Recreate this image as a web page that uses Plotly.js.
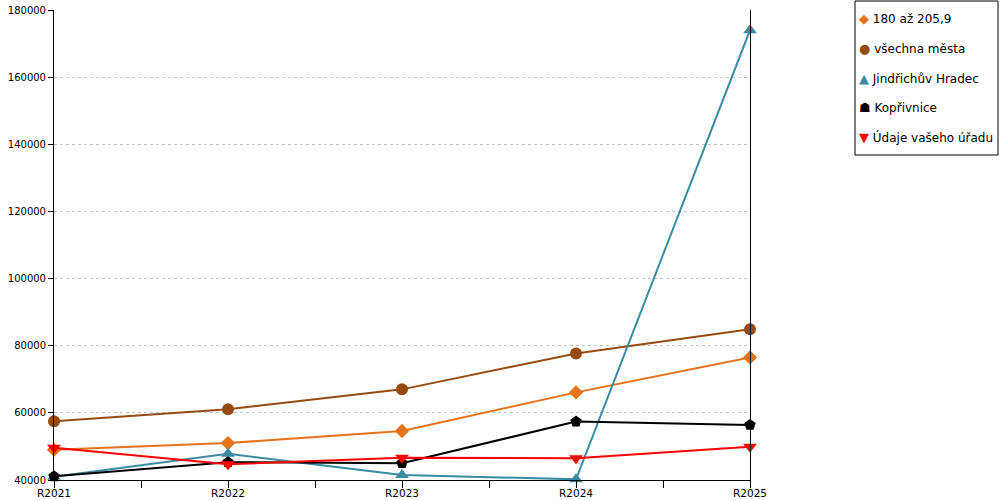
<!DOCTYPE html>
<html>
<head>
<meta charset="utf-8">
<script src="https://cdn.plot.ly/plotly-3.0.1.min.js"></script>
<style>html,body{margin:0;padding:0;background:#fff;}#chart{width:1000px;height:500px;}</style>
</head>
<body>
<div id="chart"></div>
<script>
const categories = ['R2021', 'R2022', 'R2023', 'R2024', 'R2025'];
const seriesNames = ['180 až 205,9', 'všechna města', 'Jindřichův Hradec', 'Kopřivnice', 'Údaje vašeho úřadu'];
const range180 = [49000, 51000, 54600, 66100, 76500];
const allCities = [57500, 61100, 67000, 77700, 84900];
const jindrichuvHradec = [41000, 47800, 41500, 40200, 174000];
const koprivnice = [41100, 45300, 45000, 57400, 56400];
const yourOffice = [49600, 44700, 46600, 46500, 49900];

const seriesValues = [range180, allCities, jindrichuvHradec, koprivnice, yourOffice];
const colors = ['#e5731b', '#964a10', '#3a8ca3', '#000000', '#ff0000'];
const symbols = ['diamond', 'circle', 'triangle-up', 'pentagon', 'triangle-down'];
const legendGlyphs = ['◆', '●', '▲', '☗', '▼'];
const sizes = [11, 12, 12, 12, 12];

// plot area in pixels
const W = 1000, H = 500, L = 54, R = 750, T = 10, B = 480;
const px = x => (x - L) / (R - L);
const py = y => (B - y) / (B - T);

const xIdx = categories.map((c, i) => i);
const traces = seriesValues.map((vals, k) => ({
  type: 'scatter', mode: 'lines+markers',
  name: seriesNames[k], showlegend: false, cliponaxis: false,
  x: xIdx, y: vals,
  line: {color: colors[k], width: 2},
  marker: {symbol: symbols[k], size: sizes[k], color: colors[k]}
}));
// invisible helper trace to activate the tick-mark overlay axis
traces.push({type: 'scatter', mode: 'none', x: [0], y: [40000], xaxis: 'x2', showlegend: false, hoverinfo: 'skip'});

const tickvals = [], ticktext = [];
categories.forEach((c, i) => {
  tickvals.push(i); ticktext.push(c);
  if (i < categories.length - 1) { tickvals.push(i + 0.5); ticktext.push(''); }
});

const annotations = seriesNames.map((n, k) => ({
  xref: 'paper', yref: 'paper', x: px(857), y: py(19 + k * 29.5),
  xanchor: 'left', yanchor: 'middle', showarrow: false, align: 'left',
  text: '<span style="color:' + colors[k] + ';font-size:13px">' + legendGlyphs[k] + '</span> ' + n,
  font: {family: 'DejaVu Sans', size: 12, color: '#000'}
}));

const layout = {
  width: W, height: H,
  margin: {l: L, r: W - R, t: T, b: H - B, autoexpand: false},
  paper_bgcolor: '#fff', plot_bgcolor: '#fff',
  font: {family: 'DejaVu Sans', size: 10, color: '#000'},
  showlegend: false,
  annotations: annotations,
  shapes: [{
    type: 'rect', xref: 'paper', yref: 'paper',
    x0: px(855), x1: px(998), y0: py(155), y1: py(1),
    line: {color: '#000', width: 1}, fillcolor: 'rgba(0,0,0,0)'
  }],
  xaxis: {
    type: 'linear', range: [0, 4], tickvals: tickvals, ticktext: ticktext,
    showgrid: false, zeroline: false, showline: true, linecolor: '#000', linewidth: 1,
    ticks: '', ticklabelstandoff: 3,
    tickfont: {family: 'DejaVu Sans', size: 10.5}
  },
  xaxis2: {
    type: 'linear', range: [0, 4], tickvals: tickvals, overlaying: 'x', side: 'bottom',
    showticklabels: false, showgrid: false, zeroline: false, showline: false,
    ticks: 'outside', ticklen: 7, tickcolor: '#000'
  },
  yaxis: {
    range: [40000, 180000], dtick: 20000, tick0: 40000, tickformat: 'd',
    showgrid: true, gridcolor: '#c4c4c4', griddash: 'dot', gridwidth: 1,
    zeroline: false, showline: true, linecolor: '#000', linewidth: 1, mirror: true,
    ticks: 'outside', ticklen: 5, tickcolor: '#000',
    tickfont: {family: 'DejaVu Sans', size: 10}
  }
};

Plotly.newPlot('chart', traces, layout, {displayModeBar: false, staticPlot: true});
</script>
</body>
</html>
